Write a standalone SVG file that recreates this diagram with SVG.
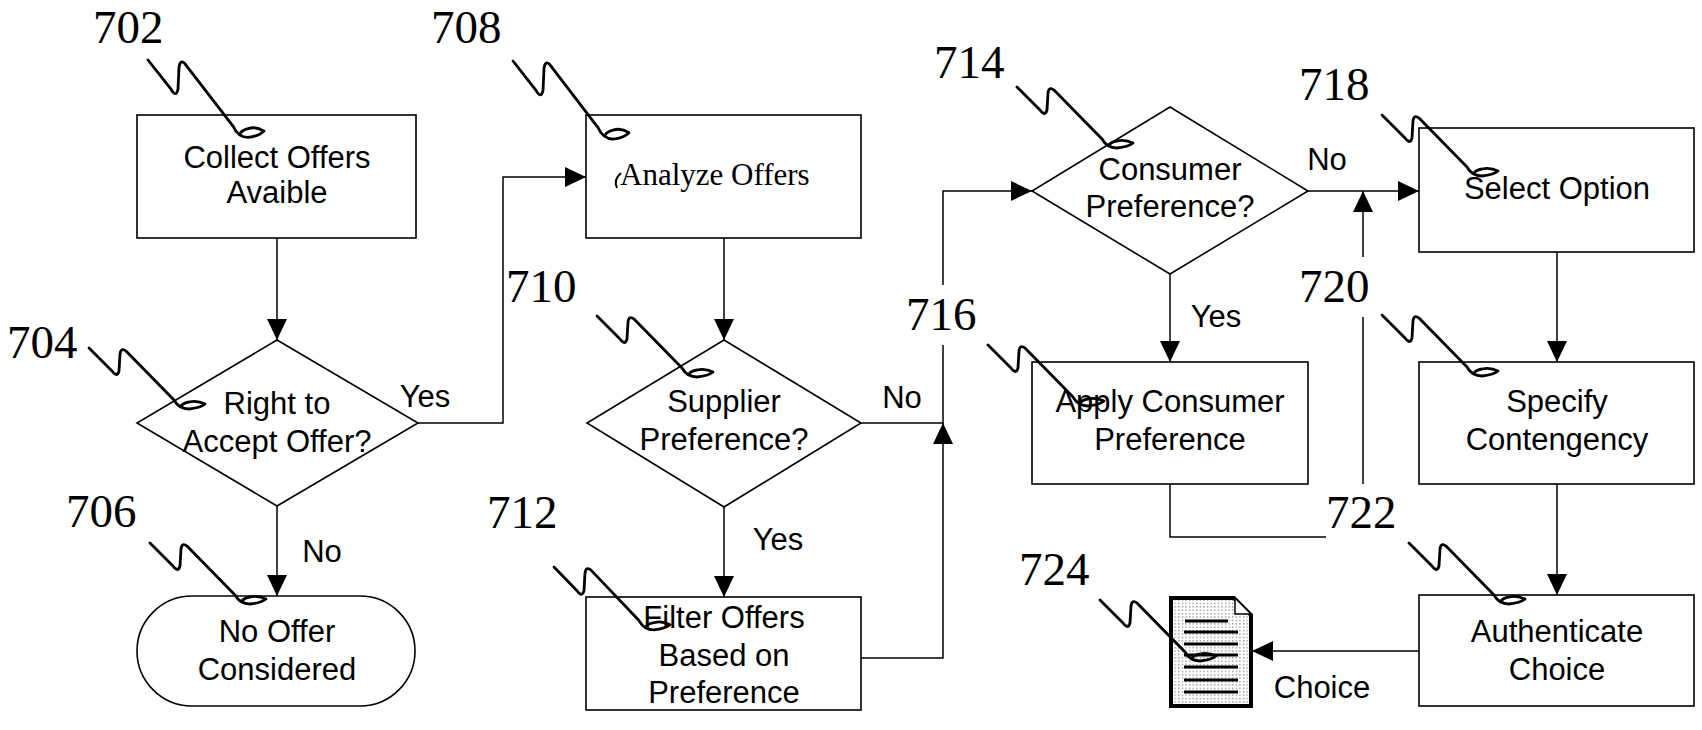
<svg xmlns="http://www.w3.org/2000/svg" xmlns:xlink="http://www.w3.org/1999/xlink" width="1702" height="730" viewBox="0 0 1702 730">
<style>
.shape{fill:#fff;stroke:#000;stroke-width:1.6}
.t{font-family:"Liberation Sans",Arial,sans-serif;font-size:31px;fill:#000;text-anchor:middle}
.ts{font-family:"Liberation Serif","Times New Roman",serif;font-size:31px;fill:#000}
.num{font-family:"Liberation Serif","Times New Roman",serif;font-size:47px;fill:#000}
.c{fill:none;stroke:#000;stroke-width:1.5}
.sq{fill:none;stroke:#000;stroke-width:2.8;stroke-linejoin:round;stroke-linecap:round}
.bar{stroke:#000;stroke-width:3}
</style>
<defs>
<marker id="ah" markerUnits="userSpaceOnUse" viewBox="0 0 21 20" markerWidth="21" markerHeight="20" refX="21" refY="10" orient="auto">
<path d="M0,0 L21,10 L0,20 Z" fill="#000"/>
</marker>
<pattern id="dots" patternUnits="userSpaceOnUse" width="3.6" height="3.4">
<rect width="3.6" height="3.4" fill="#fff"/>
<rect x="1.2" y="1.2" width="0.9" height="0.9" fill="#000"/>
</pattern>
<path id="sq" class="sq" vector-effect="non-scaling-stroke" d="M0,0 L23,23 Q28,30 30,23 L31,6 Q32,-1 37,3 L85,52 Q90,61 100,61 Q111,60 116,56 Q108,52 100,54 Q94,55 92,58"/>
</defs>
<rect width="1702" height="730" fill="#fff"/>

<g id="connectors">
<path class="c" d="M277,238 V340" marker-end="url(#ah)"/>
<path class="c" d="M277,506 V596" marker-end="url(#ah)"/>
<path class="c" d="M418,423 H503 V177 H586" marker-end="url(#ah)"/>
<path class="c" d="M724,238 V340" marker-end="url(#ah)"/>
<path class="c" d="M724,507 V597" marker-end="url(#ah)"/>
<path class="c" d="M861,423 H943 V345"/>
<path class="c" d="M943,285 V191 H1032" marker-end="url(#ah)"/>
<path class="c" d="M861,658 H943 V423" marker-end="url(#ah)"/>
<path class="c" d="M1308,191 H1419" marker-end="url(#ah)"/>
<path class="c" d="M1170,274 V362" marker-end="url(#ah)"/>
<path class="c" d="M1170,484 V537 H1326"/>
<path class="c" d="M1363,484 V317"/>
<path class="c" d="M1363,257 V191" marker-end="url(#ah)"/>
<path class="c" d="M1557,252 V362" marker-end="url(#ah)"/>
<path class="c" d="M1557,484 V595" marker-end="url(#ah)"/>
<path class="c" d="M1419,651 H1252" marker-end="url(#ah)"/>
<text class="t" x="425" y="407">Yes</text>
<text class="t" x="322" y="562">No</text>
<text class="t" x="902" y="408">No</text>
<text class="t" x="778" y="550">Yes</text>
<text class="t" x="1327" y="170">No</text>
<text class="t" x="1216" y="327">Yes</text>
<text class="t" x="1322" y="698">Choice</text>
</g>

<g id="n702">
<rect class="shape" x="137" y="115" width="279" height="123"/>
<text class="t" x="277" y="168">Collect Offers</text>
<text class="t" x="277" y="203">Avaible</text>
</g>
<g id="n704">
<path class="shape" d="M277,340 L418,423 L277,506 L137,423 Z"/>
<text class="t" x="277" y="414">Right to</text>
<text class="t" x="277" y="452">Accept Offer?</text>
</g>
<g id="n706">
<rect class="shape" x="137" y="596" width="278" height="110" rx="55" ry="55"/>
<text class="t" x="277" y="642">No Offer</text>
<text class="t" x="277" y="680">Considered</text>
</g>
<g id="n708">
<rect class="shape" x="586" y="115" width="275" height="123"/>
<path d="M621,173 Q613,180 617,188" fill="none" stroke="#000" stroke-width="2"/>
<text class="ts" x="620" y="185">Analyze Offers</text>
</g>
<g id="n710">
<path class="shape" d="M724,340 L861,423 L724,507 L587,423 Z"/>
<text class="t" x="724" y="412">Supplier</text>
<text class="t" x="724" y="450">Preference?</text>
</g>
<g id="n712">
<rect class="shape" x="586" y="597" width="275" height="113"/>
<text class="t" x="724" y="628">Filter Offers</text>
<text class="t" x="724" y="666">Based on</text>
<text class="t" x="724" y="703">Preference</text>
</g>
<g id="n714">
<path class="shape" d="M1170,107 L1308,191 L1170,274 L1032,191 Z"/>
<text class="t" x="1170" y="180">Consumer</text>
<text class="t" x="1170" y="217">Preference?</text>
</g>
<g id="n716">
<rect class="shape" x="1032" y="362" width="276" height="122"/>
<text class="t" x="1170" y="412">Apply Consumer</text>
<text class="t" x="1170" y="450">Preference</text>
</g>
<g id="n718">
<rect class="shape" x="1419" y="128" width="275" height="124"/>
<text class="t" x="1557" y="199">Select Option</text>
</g>
<g id="n720">
<rect class="shape" x="1419" y="362" width="275" height="122"/>
<text class="t" x="1557" y="412">Specify</text>
<text class="t" x="1557" y="450">Contengency</text>
</g>
<g id="n722">
<rect class="shape" x="1419" y="595" width="275" height="111"/>
<text class="t" x="1557" y="642">Authenticate</text>
<text class="t" x="1557" y="680">Choice</text>
</g>
<g id="n724">
<path d="M1171,598 H1234 L1251,615 V706 H1171 Z" fill="url(#dots)" stroke="#000" stroke-width="4" stroke-linejoin="miter"/>
<path d="M1235,599 V614 H1250" fill="#fff" stroke="#000" stroke-width="1.5"/>
<line class="bar" x1="1185" y1="621" x2="1228" y2="621"/>
<line class="bar" x1="1184" y1="632" x2="1238" y2="632"/>
<line class="bar" x1="1184" y1="644" x2="1238" y2="644"/>
<line class="bar" x1="1184" y1="655" x2="1238" y2="655"/>
<line class="bar" x1="1184" y1="667" x2="1238" y2="667"/>
<line class="bar" x1="1184" y1="680" x2="1238" y2="680"/>
<line class="bar" x1="1184" y1="692" x2="1238" y2="692"/>
</g>

<g id="refs">
<text class="num" x="93" y="43">702</text>
<use xlink:href="#sq" transform="translate(148,60) scale(1,1.27)"/>
<text class="num" x="7" y="358">704</text>
<use xlink:href="#sq" transform="translate(89,348)"/>
<text class="num" x="66" y="527">706</text>
<use xlink:href="#sq" transform="translate(150,543)"/>
<text class="num" x="431" y="43">708</text>
<use xlink:href="#sq" transform="translate(513,61) scale(1,1.28)"/>
<text class="num" x="506" y="302">710</text>
<use xlink:href="#sq" transform="translate(597,316)"/>
<text class="num" x="487" y="528">712</text>
<use xlink:href="#sq" transform="translate(554,567) scale(1,1.03)"/>
<text class="num" x="934" y="78">714</text>
<use xlink:href="#sq" transform="translate(1017,87)"/>
<text class="num" x="906" y="330">716</text>
<use xlink:href="#sq" transform="translate(988,345)"/>
<text class="num" x="1299" y="100">718</text>
<use xlink:href="#sq" transform="translate(1382,115)"/>
<text class="num" x="1299" y="302">720</text>
<use xlink:href="#sq" transform="translate(1382,315)"/>
<text class="num" x="1326" y="528">722</text>
<use xlink:href="#sq" transform="translate(1409,543)"/>
<text class="num" x="1019" y="585">724</text>
<use xlink:href="#sq" transform="translate(1100,600)"/>
</g>
</svg>
